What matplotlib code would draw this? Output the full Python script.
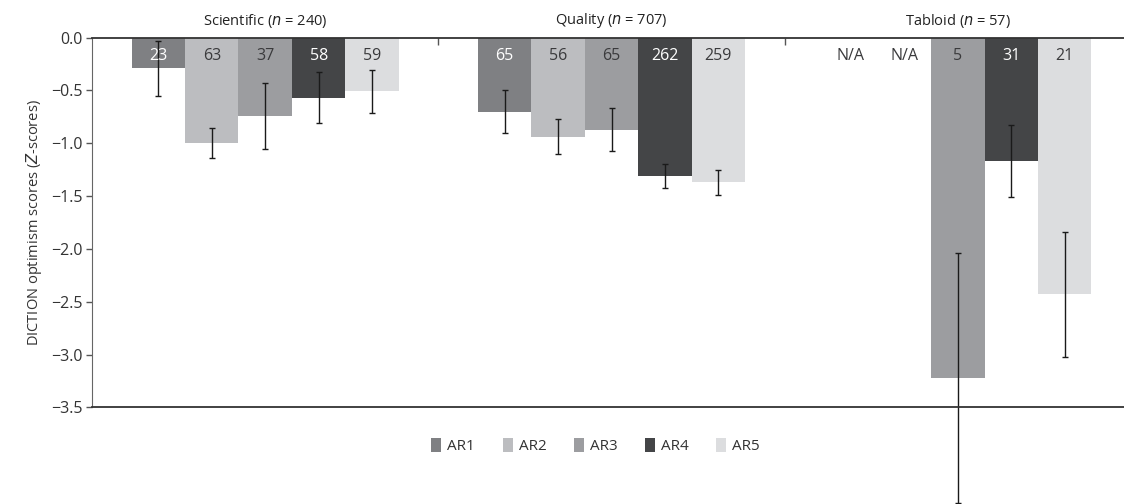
import matplotlib
matplotlib.use("Agg")
import matplotlib.pyplot as plt
from matplotlib.patches import Patch
import numpy as np

plt.rcParams['font.family'] = ['Open Sans', 'DejaVu Sans']

# data
groups = ['Scientific', 'Quality', 'Tabloid']
group_n = [240, 707, 57]
series = ['AR1', 'AR2', 'AR3', 'AR4', 'AR5']
colors = ['#7f8083', '#bcbdc0', '#9c9da0', '#444547', '#dcdddf']
label_colors = ['white', '#3a3a3c', '#3a3a3c', 'white', '#3a3a3c']

# mean scores per series (rows) for each group (cols); None = N/A
means = [
    [-0.29, -0.70, None],
    [-1.00, -0.94, None],
    [-0.74, -0.87, -3.22],
    [-0.57, -1.31, -1.17],
    [-0.51, -1.37, -2.43],
]
errors = [
    [0.26, 0.20, None],
    [0.14, 0.165, None],
    [0.31, 0.205, 1.18],
    [0.24, 0.115, 0.34],
    [0.20, 0.12, 0.59],
]
counts = [
    ['23', '65', 'N/A'],
    ['63', '56', 'N/A'],
    ['37', '65', '5'],
    ['58', '262', '31'],
    ['59', '259', '21'],
]
yticks = [-3.5, -3.0, -2.5, -2.0, -1.5, -1.0, -0.5, 0.0]

fig = plt.figure(figsize=(11.24, 5.04), dpi=100)
ax = fig.add_axes([0.0819, 0.1915, 0.9243, 0.734])

x = np.arange(len(groups))
width = 0.1543
for i, name in enumerate(series):
    offs = (i - 2) * width
    for j in range(len(groups)):
        xpos = x[j] + offs
        m = means[i][j]
        if m is not None:
            ax.bar(xpos, m, width, color=colors[i], linewidth=0)
            ax.errorbar(xpos, m, yerr=errors[i][j], color='#1a1a1a',
                        elinewidth=1, capsize=2.2, capthick=1, clip_on=False)
            tc = label_colors[i]
        else:
            tc = '#3a3a3c'
        ax.text(xpos, -0.17, counts[i][j], ha='center', va='center',
                fontsize=11.5, color=tc)

# group headers above the top axis line
for j, g in enumerate(groups):
    ax.text(x[j], 0.075, f'{g} ($\\mathit{{n}}$ = {group_n[j]})',
            ha='center', va='bottom', fontsize=10.5, color='#222222')

ax.set_xlim(-0.5, 2.5)
ax.set_ylim(-3.5, 0.0)
ax.set_yticks(yticks)
ax.set_yticklabels([f'{v:.1f}'.replace('-', '\u2212') if v != 0 else '0.0' for v in yticks])

ax.set_xticks([0.5, 1.5])
ax.set_xticklabels([])
ax.xaxis.set_ticks_position('top')
ax.tick_params(axis='x', direction='in', length=5, color='#555555', width=1)
ax.tick_params(axis='y', direction='out', length=4, color='#555555', width=1,
               labelsize=11.5, labelcolor='#333333', pad=3)

ax.spines['right'].set_visible(False)
ax.spines['top'].set_color('#333333')
ax.spines['bottom'].set_color('#333333')
ax.spines['left'].set_color('#666666')
for s in ['top', 'bottom']:
    ax.spines[s].set_linewidth(1.3)

ax.set_ylabel('DICTION optimism scores ($\\mathit{Z}$-scores)', fontsize=10.5,
              color='#333333', labelpad=5)

handles = [Patch(facecolor=c, edgecolor='none', label=s) for s, c in zip(series, colors)]
fig.legend(handles=handles, loc='center', bbox_to_anchor=(0.53, 0.115), ncol=5,
           frameon=False, fontsize=11, handlelength=0.65, handleheight=1.0,
           handletextpad=0.4, columnspacing=1.8, labelcolor='#333333')

fig.savefig('out.png', dpi=100)
